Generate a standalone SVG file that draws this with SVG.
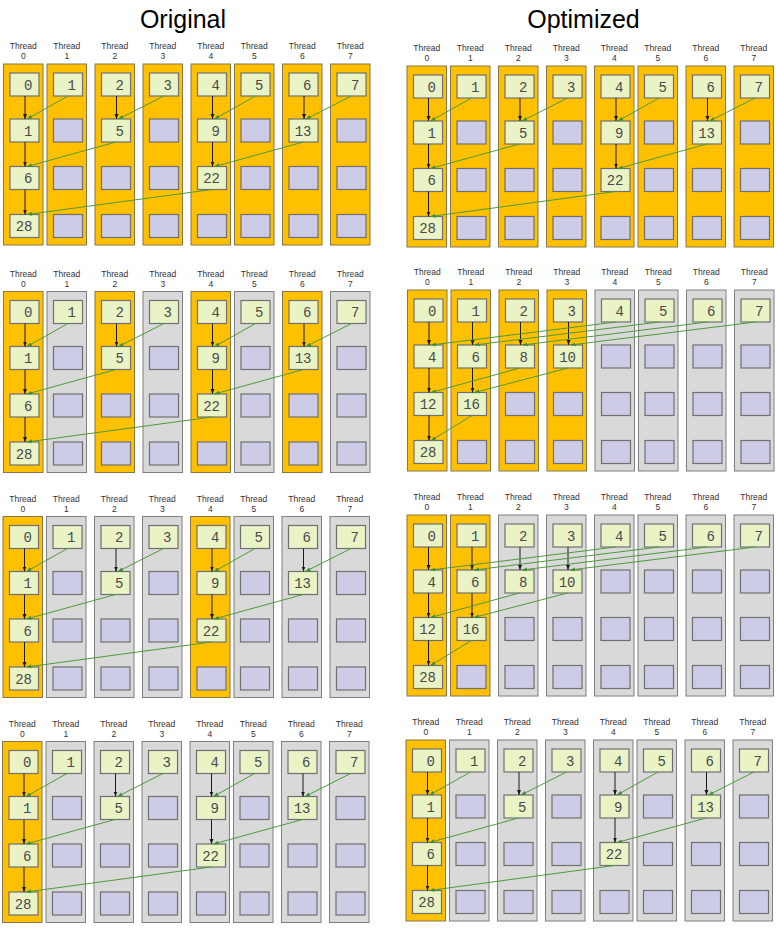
<svg xmlns="http://www.w3.org/2000/svg" xmlns:xlink="http://www.w3.org/1999/xlink" width="776" height="928" viewBox="0 0 776 928">
<style>
.so{fill:#FFC000;stroke:#86764a;stroke-width:1}
.sg{fill:#D9D9D9;stroke:#7f7f7f;stroke-width:1}
.bg{fill:#E9F3C6;stroke:#707070;stroke-width:1.2}
.bp{fill:#CCCCE6;stroke:#707070;stroke-width:1.2}
.lb{font-family:"Liberation Sans",Arial,sans-serif;font-size:8.5px;fill:#333;text-anchor:middle}
.nv{font-family:"Liberation Mono","Courier New",monospace;font-size:14px;fill:#4a4a4a;text-anchor:end}
.ti{font-family:"Liberation Sans",Arial,sans-serif;font-size:25px;fill:#000;text-anchor:middle}
.ek{stroke:#1a1a1a;stroke-width:1;fill:none;marker-end:url(#ak)}
.eg{stroke:#4e9a3a;stroke-width:1;fill:none;marker-end:url(#ag)}
</style>
<defs>
<marker id="ak" markerUnits="userSpaceOnUse" markerWidth="5" markerHeight="5" viewBox="0 0 5 5" refX="5" refY="2.5" orient="auto"><path d="M0,0.5 L5,2.5 L0,4.5 Z" fill="#1a1a1a"/></marker>
<marker id="ag" markerUnits="userSpaceOnUse" markerWidth="5" markerHeight="5" viewBox="0 0 5 5" refX="5" refY="2.5" orient="auto"><path d="M0,0.5 L5,2.5 L0,4.5 Z" fill="#3f8f2f"/></marker>
<rect id="pb" class="bp" width="29" height="23"/>
</defs>
<rect width="776" height="928" fill="#fff"/>
<text class="ti" x="183" y="28">Original</text>
<text class="ti" x="583.5" y="28">Optimized</text>

<!-- Panel 1: original, all active -->
<g id="p1" transform="translate(3.5,64)">
<g id="p1-t0"><rect class="so" x="0" y="0" width="39.5" height="181"/><text class="lb" x="19.75" y="-15">Thread</text><text class="lb" x="19.75" y="-5">0</text><rect class="bg" x="6.5" y="9" width="29" height="23"/><text class="nv" x="29" y="25.5">0</text><rect class="bg" x="6.5" y="55" width="29" height="23"/><text class="nv" x="29" y="71.5">1</text><rect class="bg" x="6.5" y="102.5" width="29" height="23"/><text class="nv" x="29" y="119">6</text><rect class="bg" x="6.5" y="150.5" width="29" height="23"/><text class="nv" x="29" y="167">28</text></g>
<g id="p1-t1"><rect class="so" x="43.5" y="0" width="39.5" height="181"/><text class="lb" x="63.25" y="-15">Thread</text><text class="lb" x="63.25" y="-5">1</text><rect class="bg" x="50" y="9" width="29" height="23"/><text class="nv" x="72.5" y="25.5">1</text><use href="#pb" x="50" y="55"/><use href="#pb" x="50" y="102.5"/><use href="#pb" x="50" y="150.5"/></g>
<g id="p1-t2"><rect class="so" x="91.5" y="0" width="39.5" height="181"/><text class="lb" x="111.25" y="-15">Thread</text><text class="lb" x="111.25" y="-5">2</text><rect class="bg" x="98" y="9" width="29" height="23"/><text class="nv" x="120.5" y="25.5">2</text><rect class="bg" x="98" y="55" width="29" height="23"/><text class="nv" x="120.5" y="71.5">5</text><use href="#pb" x="98" y="102.5"/><use href="#pb" x="98" y="150.5"/></g>
<g id="p1-t3"><rect class="so" x="139.5" y="0" width="39.5" height="181"/><text class="lb" x="159.25" y="-15">Thread</text><text class="lb" x="159.25" y="-5">3</text><rect class="bg" x="146" y="9" width="29" height="23"/><text class="nv" x="168.5" y="25.5">3</text><use href="#pb" x="146" y="55"/><use href="#pb" x="146" y="102.5"/><use href="#pb" x="146" y="150.5"/></g>
<g id="p1-t4"><rect class="so" x="187.5" y="0" width="39.5" height="181"/><text class="lb" x="207.25" y="-15">Thread</text><text class="lb" x="207.25" y="-5">4</text><rect class="bg" x="194" y="9" width="29" height="23"/><text class="nv" x="216.5" y="25.5">4</text><rect class="bg" x="194" y="55" width="29" height="23"/><text class="nv" x="216.5" y="71.5">9</text><rect class="bg" x="194" y="102.5" width="29" height="23"/><text class="nv" x="216.5" y="119">22</text><use href="#pb" x="194" y="150.5"/></g>
<g id="p1-t5"><rect class="so" x="231" y="0" width="39.5" height="181"/><text class="lb" x="250.75" y="-15">Thread</text><text class="lb" x="250.75" y="-5">5</text><rect class="bg" x="237.5" y="9" width="29" height="23"/><text class="nv" x="260" y="25.5">5</text><use href="#pb" x="237.5" y="55"/><use href="#pb" x="237.5" y="102.5"/><use href="#pb" x="237.5" y="150.5"/></g>
<g id="p1-t6"><rect class="so" x="279" y="0" width="39.5" height="181"/><text class="lb" x="298.75" y="-15">Thread</text><text class="lb" x="298.75" y="-5">6</text><rect class="bg" x="285.5" y="9" width="29" height="23"/><text class="nv" x="308" y="25.5">6</text><rect class="bg" x="285.5" y="55" width="29" height="23"/><text class="nv" x="308" y="71.5">13</text><use href="#pb" x="285.5" y="102.5"/><use href="#pb" x="285.5" y="150.5"/></g>
<g id="p1-t7"><rect class="so" x="327" y="0" width="39.5" height="181"/><text class="lb" x="346.75" y="-15">Thread</text><text class="lb" x="346.75" y="-5">7</text><rect class="bg" x="333.5" y="9" width="29" height="23"/><text class="nv" x="356" y="25.5">7</text><use href="#pb" x="333.5" y="55"/><use href="#pb" x="333.5" y="102.5"/><use href="#pb" x="333.5" y="150.5"/></g>
<g id="p1-edges">
<line class="ek" x1="21.5" y1="32" x2="21.5" y2="55"/><line class="ek" x1="113" y1="32" x2="113" y2="55"/><line class="ek" x1="209" y1="32" x2="209" y2="55"/><line class="ek" x1="300.5" y1="32" x2="300.5" y2="55"/><line class="ek" x1="21.5" y1="78" x2="21.5" y2="102.5"/><line class="ek" x1="209" y1="78" x2="209" y2="102.5"/><line class="ek" x1="21.5" y1="125.5" x2="21.5" y2="150.5"/>
<line class="eg" x1="64.5" y1="32" x2="23.5" y2="55"/><line class="eg" x1="160.5" y1="32" x2="115" y2="55"/><line class="eg" x1="252" y1="32" x2="211" y2="55"/><line class="eg" x1="348" y1="32" x2="302.5" y2="55"/><line class="eg" x1="112.5" y1="78" x2="23.5" y2="102.5"/><line class="eg" x1="300" y1="78" x2="211" y2="102.5"/><line class="eg" x1="208.5" y1="125.5" x2="23.5" y2="150.5"/>
</g>
</g>

<!-- Panel 2: optimized step 1 (same as original), all active -->
<g id="p2" transform="translate(407,66)">
<g id="p2-t0"><rect class="so" x="0" y="0" width="39.5" height="181"/><text class="lb" x="19.75" y="-15">Thread</text><text class="lb" x="19.75" y="-5">0</text><rect class="bg" x="6.5" y="9" width="29" height="23"/><text class="nv" x="29" y="25.5">0</text><rect class="bg" x="6.5" y="55" width="29" height="23"/><text class="nv" x="29" y="71.5">1</text><rect class="bg" x="6.5" y="102.5" width="29" height="23"/><text class="nv" x="29" y="119">6</text><rect class="bg" x="6.5" y="150.5" width="29" height="23"/><text class="nv" x="29" y="167">28</text></g>
<g id="p2-t1"><rect class="so" x="43.5" y="0" width="39.5" height="181"/><text class="lb" x="63.25" y="-15">Thread</text><text class="lb" x="63.25" y="-5">1</text><rect class="bg" x="50" y="9" width="29" height="23"/><text class="nv" x="72.5" y="25.5">1</text><use href="#pb" x="50" y="55"/><use href="#pb" x="50" y="102.5"/><use href="#pb" x="50" y="150.5"/></g>
<g id="p2-t2"><rect class="so" x="91.5" y="0" width="39.5" height="181"/><text class="lb" x="111.25" y="-15">Thread</text><text class="lb" x="111.25" y="-5">2</text><rect class="bg" x="98" y="9" width="29" height="23"/><text class="nv" x="120.5" y="25.5">2</text><rect class="bg" x="98" y="55" width="29" height="23"/><text class="nv" x="120.5" y="71.5">5</text><use href="#pb" x="98" y="102.5"/><use href="#pb" x="98" y="150.5"/></g>
<g id="p2-t3"><rect class="so" x="139.5" y="0" width="39.5" height="181"/><text class="lb" x="159.25" y="-15">Thread</text><text class="lb" x="159.25" y="-5">3</text><rect class="bg" x="146" y="9" width="29" height="23"/><text class="nv" x="168.5" y="25.5">3</text><use href="#pb" x="146" y="55"/><use href="#pb" x="146" y="102.5"/><use href="#pb" x="146" y="150.5"/></g>
<g id="p2-t4"><rect class="so" x="187.5" y="0" width="39.5" height="181"/><text class="lb" x="207.25" y="-15">Thread</text><text class="lb" x="207.25" y="-5">4</text><rect class="bg" x="194" y="9" width="29" height="23"/><text class="nv" x="216.5" y="25.5">4</text><rect class="bg" x="194" y="55" width="29" height="23"/><text class="nv" x="216.5" y="71.5">9</text><rect class="bg" x="194" y="102.5" width="29" height="23"/><text class="nv" x="216.5" y="119">22</text><use href="#pb" x="194" y="150.5"/></g>
<g id="p2-t5"><rect class="so" x="231" y="0" width="39.5" height="181"/><text class="lb" x="250.75" y="-15">Thread</text><text class="lb" x="250.75" y="-5">5</text><rect class="bg" x="237.5" y="9" width="29" height="23"/><text class="nv" x="260" y="25.5">5</text><use href="#pb" x="237.5" y="55"/><use href="#pb" x="237.5" y="102.5"/><use href="#pb" x="237.5" y="150.5"/></g>
<g id="p2-t6"><rect class="so" x="279" y="0" width="39.5" height="181"/><text class="lb" x="298.75" y="-15">Thread</text><text class="lb" x="298.75" y="-5">6</text><rect class="bg" x="285.5" y="9" width="29" height="23"/><text class="nv" x="308" y="25.5">6</text><rect class="bg" x="285.5" y="55" width="29" height="23"/><text class="nv" x="308" y="71.5">13</text><use href="#pb" x="285.5" y="102.5"/><use href="#pb" x="285.5" y="150.5"/></g>
<g id="p2-t7"><rect class="so" x="327" y="0" width="39.5" height="181"/><text class="lb" x="346.75" y="-15">Thread</text><text class="lb" x="346.75" y="-5">7</text><rect class="bg" x="333.5" y="9" width="29" height="23"/><text class="nv" x="356" y="25.5">7</text><use href="#pb" x="333.5" y="55"/><use href="#pb" x="333.5" y="102.5"/><use href="#pb" x="333.5" y="150.5"/></g>
<g id="p2-edges">
<line class="ek" x1="21.5" y1="32" x2="21.5" y2="55"/><line class="ek" x1="113" y1="32" x2="113" y2="55"/><line class="ek" x1="209" y1="32" x2="209" y2="55"/><line class="ek" x1="300.5" y1="32" x2="300.5" y2="55"/><line class="ek" x1="21.5" y1="78" x2="21.5" y2="102.5"/><line class="ek" x1="209" y1="78" x2="209" y2="102.5"/><line class="ek" x1="21.5" y1="125.5" x2="21.5" y2="150.5"/>
<line class="eg" x1="64.5" y1="32" x2="23.5" y2="55"/><line class="eg" x1="160.5" y1="32" x2="115" y2="55"/><line class="eg" x1="252" y1="32" x2="211" y2="55"/><line class="eg" x1="348" y1="32" x2="302.5" y2="55"/><line class="eg" x1="112.5" y1="78" x2="23.5" y2="102.5"/><line class="eg" x1="300" y1="78" x2="211" y2="102.5"/><line class="eg" x1="208.5" y1="125.5" x2="23.5" y2="150.5"/>
</g>
</g>

<!-- Panel 3: original, even threads active -->
<g id="p3" transform="translate(3.5,291.5)">
<g id="p3-t0"><rect class="so" x="0" y="0" width="39.5" height="181"/><text class="lb" x="19.75" y="-15">Thread</text><text class="lb" x="19.75" y="-5">0</text><rect class="bg" x="6.5" y="9" width="29" height="23"/><text class="nv" x="29" y="25.5">0</text><rect class="bg" x="6.5" y="55" width="29" height="23"/><text class="nv" x="29" y="71.5">1</text><rect class="bg" x="6.5" y="102.5" width="29" height="23"/><text class="nv" x="29" y="119">6</text><rect class="bg" x="6.5" y="150.5" width="29" height="23"/><text class="nv" x="29" y="167">28</text></g>
<g id="p3-t1"><rect class="sg" x="43.5" y="0" width="39.5" height="181"/><text class="lb" x="63.25" y="-15">Thread</text><text class="lb" x="63.25" y="-5">1</text><rect class="bg" x="50" y="9" width="29" height="23"/><text class="nv" x="72.5" y="25.5">1</text><use href="#pb" x="50" y="55"/><use href="#pb" x="50" y="102.5"/><use href="#pb" x="50" y="150.5"/></g>
<g id="p3-t2"><rect class="so" x="91.5" y="0" width="39.5" height="181"/><text class="lb" x="111.25" y="-15">Thread</text><text class="lb" x="111.25" y="-5">2</text><rect class="bg" x="98" y="9" width="29" height="23"/><text class="nv" x="120.5" y="25.5">2</text><rect class="bg" x="98" y="55" width="29" height="23"/><text class="nv" x="120.5" y="71.5">5</text><use href="#pb" x="98" y="102.5"/><use href="#pb" x="98" y="150.5"/></g>
<g id="p3-t3"><rect class="sg" x="139.5" y="0" width="39.5" height="181"/><text class="lb" x="159.25" y="-15">Thread</text><text class="lb" x="159.25" y="-5">3</text><rect class="bg" x="146" y="9" width="29" height="23"/><text class="nv" x="168.5" y="25.5">3</text><use href="#pb" x="146" y="55"/><use href="#pb" x="146" y="102.5"/><use href="#pb" x="146" y="150.5"/></g>
<g id="p3-t4"><rect class="so" x="187.5" y="0" width="39.5" height="181"/><text class="lb" x="207.25" y="-15">Thread</text><text class="lb" x="207.25" y="-5">4</text><rect class="bg" x="194" y="9" width="29" height="23"/><text class="nv" x="216.5" y="25.5">4</text><rect class="bg" x="194" y="55" width="29" height="23"/><text class="nv" x="216.5" y="71.5">9</text><rect class="bg" x="194" y="102.5" width="29" height="23"/><text class="nv" x="216.5" y="119">22</text><use href="#pb" x="194" y="150.5"/></g>
<g id="p3-t5"><rect class="sg" x="231" y="0" width="39.5" height="181"/><text class="lb" x="250.75" y="-15">Thread</text><text class="lb" x="250.75" y="-5">5</text><rect class="bg" x="237.5" y="9" width="29" height="23"/><text class="nv" x="260" y="25.5">5</text><use href="#pb" x="237.5" y="55"/><use href="#pb" x="237.5" y="102.5"/><use href="#pb" x="237.5" y="150.5"/></g>
<g id="p3-t6"><rect class="so" x="279" y="0" width="39.5" height="181"/><text class="lb" x="298.75" y="-15">Thread</text><text class="lb" x="298.75" y="-5">6</text><rect class="bg" x="285.5" y="9" width="29" height="23"/><text class="nv" x="308" y="25.5">6</text><rect class="bg" x="285.5" y="55" width="29" height="23"/><text class="nv" x="308" y="71.5">13</text><use href="#pb" x="285.5" y="102.5"/><use href="#pb" x="285.5" y="150.5"/></g>
<g id="p3-t7"><rect class="sg" x="327" y="0" width="39.5" height="181"/><text class="lb" x="346.75" y="-15">Thread</text><text class="lb" x="346.75" y="-5">7</text><rect class="bg" x="333.5" y="9" width="29" height="23"/><text class="nv" x="356" y="25.5">7</text><use href="#pb" x="333.5" y="55"/><use href="#pb" x="333.5" y="102.5"/><use href="#pb" x="333.5" y="150.5"/></g>
<g id="p3-edges">
<line class="ek" x1="21.5" y1="32" x2="21.5" y2="55"/><line class="ek" x1="113" y1="32" x2="113" y2="55"/><line class="ek" x1="209" y1="32" x2="209" y2="55"/><line class="ek" x1="300.5" y1="32" x2="300.5" y2="55"/><line class="ek" x1="21.5" y1="78" x2="21.5" y2="102.5"/><line class="ek" x1="209" y1="78" x2="209" y2="102.5"/><line class="ek" x1="21.5" y1="125.5" x2="21.5" y2="150.5"/>
<line class="eg" x1="64.5" y1="32" x2="23.5" y2="55"/><line class="eg" x1="160.5" y1="32" x2="115" y2="55"/><line class="eg" x1="252" y1="32" x2="211" y2="55"/><line class="eg" x1="348" y1="32" x2="302.5" y2="55"/><line class="eg" x1="112.5" y1="78" x2="23.5" y2="102.5"/><line class="eg" x1="300" y1="78" x2="211" y2="102.5"/><line class="eg" x1="208.5" y1="125.5" x2="23.5" y2="150.5"/>
</g>
</g>

<!-- Panel 4: optimized, threads 0-3 active -->
<g id="p4" transform="translate(407.5,290)">
<g id="p4-t0"><rect class="so" x="0" y="0" width="39.5" height="181"/><text class="lb" x="19.75" y="-15">Thread</text><text class="lb" x="19.75" y="-5">0</text><rect class="bg" x="6.5" y="9" width="29" height="23"/><text class="nv" x="29" y="25.5">0</text><rect class="bg" x="6.5" y="55" width="29" height="23"/><text class="nv" x="29" y="71.5">4</text><rect class="bg" x="6.5" y="102.5" width="29" height="23"/><text class="nv" x="29" y="119">12</text><rect class="bg" x="6.5" y="150.5" width="29" height="23"/><text class="nv" x="29" y="167">28</text></g>
<g id="p4-t1"><rect class="so" x="43.5" y="0" width="39.5" height="181"/><text class="lb" x="63.25" y="-15">Thread</text><text class="lb" x="63.25" y="-5">1</text><rect class="bg" x="50" y="9" width="29" height="23"/><text class="nv" x="72.5" y="25.5">1</text><rect class="bg" x="50" y="55" width="29" height="23"/><text class="nv" x="72.5" y="71.5">6</text><rect class="bg" x="50" y="102.5" width="29" height="23"/><text class="nv" x="72.5" y="119">16</text><use href="#pb" x="50" y="150.5"/></g>
<g id="p4-t2"><rect class="so" x="91.5" y="0" width="39.5" height="181"/><text class="lb" x="111.25" y="-15">Thread</text><text class="lb" x="111.25" y="-5">2</text><rect class="bg" x="98" y="9" width="29" height="23"/><text class="nv" x="120.5" y="25.5">2</text><rect class="bg" x="98" y="55" width="29" height="23"/><text class="nv" x="120.5" y="71.5">8</text><use href="#pb" x="98" y="102.5"/><use href="#pb" x="98" y="150.5"/></g>
<g id="p4-t3"><rect class="so" x="139.5" y="0" width="39.5" height="181"/><text class="lb" x="159.25" y="-15">Thread</text><text class="lb" x="159.25" y="-5">3</text><rect class="bg" x="146" y="9" width="29" height="23"/><text class="nv" x="168.5" y="25.5">3</text><rect class="bg" x="146" y="55" width="29" height="23"/><text class="nv" x="168.5" y="71.5">10</text><use href="#pb" x="146" y="102.5"/><use href="#pb" x="146" y="150.5"/></g>
<g id="p4-t4"><rect class="sg" x="187.5" y="0" width="39.5" height="181"/><text class="lb" x="207.25" y="-15">Thread</text><text class="lb" x="207.25" y="-5">4</text><rect class="bg" x="194" y="9" width="29" height="23"/><text class="nv" x="216.5" y="25.5">4</text><use href="#pb" x="194" y="55"/><use href="#pb" x="194" y="102.5"/><use href="#pb" x="194" y="150.5"/></g>
<g id="p4-t5"><rect class="sg" x="231" y="0" width="39.5" height="181"/><text class="lb" x="250.75" y="-15">Thread</text><text class="lb" x="250.75" y="-5">5</text><rect class="bg" x="237.5" y="9" width="29" height="23"/><text class="nv" x="260" y="25.5">5</text><use href="#pb" x="237.5" y="55"/><use href="#pb" x="237.5" y="102.5"/><use href="#pb" x="237.5" y="150.5"/></g>
<g id="p4-t6"><rect class="sg" x="279" y="0" width="39.5" height="181"/><text class="lb" x="298.75" y="-15">Thread</text><text class="lb" x="298.75" y="-5">6</text><rect class="bg" x="285.5" y="9" width="29" height="23"/><text class="nv" x="308" y="25.5">6</text><use href="#pb" x="285.5" y="55"/><use href="#pb" x="285.5" y="102.5"/><use href="#pb" x="285.5" y="150.5"/></g>
<g id="p4-t7"><rect class="sg" x="327" y="0" width="39.5" height="181"/><text class="lb" x="346.75" y="-15">Thread</text><text class="lb" x="346.75" y="-5">7</text><rect class="bg" x="333.5" y="9" width="29" height="23"/><text class="nv" x="356" y="25.5">7</text><use href="#pb" x="333.5" y="55"/><use href="#pb" x="333.5" y="102.5"/><use href="#pb" x="333.5" y="150.5"/></g>
<g id="p4-edges">
<line class="ek" x1="21.5" y1="32" x2="21.5" y2="55"/><line class="ek" x1="65" y1="32" x2="65" y2="55"/><line class="ek" x1="113" y1="32" x2="113" y2="55"/><line class="ek" x1="161" y1="32" x2="161" y2="55"/><line class="ek" x1="21.5" y1="78" x2="21.5" y2="102.5"/><line class="ek" x1="65" y1="78" x2="65" y2="102.5"/><line class="ek" x1="21.5" y1="125.5" x2="21.5" y2="150.5"/>
<line class="eg" x1="208.5" y1="32" x2="23.5" y2="55"/><line class="eg" x1="252" y1="32" x2="67" y2="55"/><line class="eg" x1="300" y1="32" x2="115" y2="55"/><line class="eg" x1="348" y1="32" x2="163" y2="55"/><line class="eg" x1="112.5" y1="78" x2="23.5" y2="102.5"/><line class="eg" x1="160.5" y1="78" x2="67" y2="102.5"/><line class="eg" x1="64.5" y1="125.5" x2="23.5" y2="150.5"/>
</g>
</g>

<!-- Panel 5: original, threads 0 and 4 active -->
<g id="p5" transform="translate(3,516.5)">
<g id="p5-t0"><rect class="so" x="0" y="0" width="39.5" height="181"/><text class="lb" x="19.75" y="-15">Thread</text><text class="lb" x="19.75" y="-5">0</text><rect class="bg" x="6.5" y="9" width="29" height="23"/><text class="nv" x="29" y="25.5">0</text><rect class="bg" x="6.5" y="55" width="29" height="23"/><text class="nv" x="29" y="71.5">1</text><rect class="bg" x="6.5" y="102.5" width="29" height="23"/><text class="nv" x="29" y="119">6</text><rect class="bg" x="6.5" y="150.5" width="29" height="23"/><text class="nv" x="29" y="167">28</text></g>
<g id="p5-t1"><rect class="sg" x="43.5" y="0" width="39.5" height="181"/><text class="lb" x="63.25" y="-15">Thread</text><text class="lb" x="63.25" y="-5">1</text><rect class="bg" x="50" y="9" width="29" height="23"/><text class="nv" x="72.5" y="25.5">1</text><use href="#pb" x="50" y="55"/><use href="#pb" x="50" y="102.5"/><use href="#pb" x="50" y="150.5"/></g>
<g id="p5-t2"><rect class="sg" x="91.5" y="0" width="39.5" height="181"/><text class="lb" x="111.25" y="-15">Thread</text><text class="lb" x="111.25" y="-5">2</text><rect class="bg" x="98" y="9" width="29" height="23"/><text class="nv" x="120.5" y="25.5">2</text><rect class="bg" x="98" y="55" width="29" height="23"/><text class="nv" x="120.5" y="71.5">5</text><use href="#pb" x="98" y="102.5"/><use href="#pb" x="98" y="150.5"/></g>
<g id="p5-t3"><rect class="sg" x="139.5" y="0" width="39.5" height="181"/><text class="lb" x="159.25" y="-15">Thread</text><text class="lb" x="159.25" y="-5">3</text><rect class="bg" x="146" y="9" width="29" height="23"/><text class="nv" x="168.5" y="25.5">3</text><use href="#pb" x="146" y="55"/><use href="#pb" x="146" y="102.5"/><use href="#pb" x="146" y="150.5"/></g>
<g id="p5-t4"><rect class="so" x="187.5" y="0" width="39.5" height="181"/><text class="lb" x="207.25" y="-15">Thread</text><text class="lb" x="207.25" y="-5">4</text><rect class="bg" x="194" y="9" width="29" height="23"/><text class="nv" x="216.5" y="25.5">4</text><rect class="bg" x="194" y="55" width="29" height="23"/><text class="nv" x="216.5" y="71.5">9</text><rect class="bg" x="194" y="102.5" width="29" height="23"/><text class="nv" x="216.5" y="119">22</text><use href="#pb" x="194" y="150.5"/></g>
<g id="p5-t5"><rect class="sg" x="231" y="0" width="39.5" height="181"/><text class="lb" x="250.75" y="-15">Thread</text><text class="lb" x="250.75" y="-5">5</text><rect class="bg" x="237.5" y="9" width="29" height="23"/><text class="nv" x="260" y="25.5">5</text><use href="#pb" x="237.5" y="55"/><use href="#pb" x="237.5" y="102.5"/><use href="#pb" x="237.5" y="150.5"/></g>
<g id="p5-t6"><rect class="sg" x="279" y="0" width="39.5" height="181"/><text class="lb" x="298.75" y="-15">Thread</text><text class="lb" x="298.75" y="-5">6</text><rect class="bg" x="285.5" y="9" width="29" height="23"/><text class="nv" x="308" y="25.5">6</text><rect class="bg" x="285.5" y="55" width="29" height="23"/><text class="nv" x="308" y="71.5">13</text><use href="#pb" x="285.5" y="102.5"/><use href="#pb" x="285.5" y="150.5"/></g>
<g id="p5-t7"><rect class="sg" x="327" y="0" width="39.5" height="181"/><text class="lb" x="346.75" y="-15">Thread</text><text class="lb" x="346.75" y="-5">7</text><rect class="bg" x="333.5" y="9" width="29" height="23"/><text class="nv" x="356" y="25.5">7</text><use href="#pb" x="333.5" y="55"/><use href="#pb" x="333.5" y="102.5"/><use href="#pb" x="333.5" y="150.5"/></g>
<g id="p5-edges">
<line class="ek" x1="21.5" y1="32" x2="21.5" y2="55"/><line class="ek" x1="113" y1="32" x2="113" y2="55"/><line class="ek" x1="209" y1="32" x2="209" y2="55"/><line class="ek" x1="300.5" y1="32" x2="300.5" y2="55"/><line class="ek" x1="21.5" y1="78" x2="21.5" y2="102.5"/><line class="ek" x1="209" y1="78" x2="209" y2="102.5"/><line class="ek" x1="21.5" y1="125.5" x2="21.5" y2="150.5"/>
<line class="eg" x1="64.5" y1="32" x2="23.5" y2="55"/><line class="eg" x1="160.5" y1="32" x2="115" y2="55"/><line class="eg" x1="252" y1="32" x2="211" y2="55"/><line class="eg" x1="348" y1="32" x2="302.5" y2="55"/><line class="eg" x1="112.5" y1="78" x2="23.5" y2="102.5"/><line class="eg" x1="300" y1="78" x2="211" y2="102.5"/><line class="eg" x1="208.5" y1="125.5" x2="23.5" y2="150.5"/>
</g>
</g>

<!-- Panel 6: optimized, threads 0-1 active -->
<g id="p6" transform="translate(407,515)">
<g id="p6-t0"><rect class="so" x="0" y="0" width="39.5" height="181"/><text class="lb" x="19.75" y="-15">Thread</text><text class="lb" x="19.75" y="-5">0</text><rect class="bg" x="6.5" y="9" width="29" height="23"/><text class="nv" x="29" y="25.5">0</text><rect class="bg" x="6.5" y="55" width="29" height="23"/><text class="nv" x="29" y="71.5">4</text><rect class="bg" x="6.5" y="102.5" width="29" height="23"/><text class="nv" x="29" y="119">12</text><rect class="bg" x="6.5" y="150.5" width="29" height="23"/><text class="nv" x="29" y="167">28</text></g>
<g id="p6-t1"><rect class="so" x="43.5" y="0" width="39.5" height="181"/><text class="lb" x="63.25" y="-15">Thread</text><text class="lb" x="63.25" y="-5">1</text><rect class="bg" x="50" y="9" width="29" height="23"/><text class="nv" x="72.5" y="25.5">1</text><rect class="bg" x="50" y="55" width="29" height="23"/><text class="nv" x="72.5" y="71.5">6</text><rect class="bg" x="50" y="102.5" width="29" height="23"/><text class="nv" x="72.5" y="119">16</text><use href="#pb" x="50" y="150.5"/></g>
<g id="p6-t2"><rect class="sg" x="91.5" y="0" width="39.5" height="181"/><text class="lb" x="111.25" y="-15">Thread</text><text class="lb" x="111.25" y="-5">2</text><rect class="bg" x="98" y="9" width="29" height="23"/><text class="nv" x="120.5" y="25.5">2</text><rect class="bg" x="98" y="55" width="29" height="23"/><text class="nv" x="120.5" y="71.5">8</text><use href="#pb" x="98" y="102.5"/><use href="#pb" x="98" y="150.5"/></g>
<g id="p6-t3"><rect class="sg" x="139.5" y="0" width="39.5" height="181"/><text class="lb" x="159.25" y="-15">Thread</text><text class="lb" x="159.25" y="-5">3</text><rect class="bg" x="146" y="9" width="29" height="23"/><text class="nv" x="168.5" y="25.5">3</text><rect class="bg" x="146" y="55" width="29" height="23"/><text class="nv" x="168.5" y="71.5">10</text><use href="#pb" x="146" y="102.5"/><use href="#pb" x="146" y="150.5"/></g>
<g id="p6-t4"><rect class="sg" x="187.5" y="0" width="39.5" height="181"/><text class="lb" x="207.25" y="-15">Thread</text><text class="lb" x="207.25" y="-5">4</text><rect class="bg" x="194" y="9" width="29" height="23"/><text class="nv" x="216.5" y="25.5">4</text><use href="#pb" x="194" y="55"/><use href="#pb" x="194" y="102.5"/><use href="#pb" x="194" y="150.5"/></g>
<g id="p6-t5"><rect class="sg" x="231" y="0" width="39.5" height="181"/><text class="lb" x="250.75" y="-15">Thread</text><text class="lb" x="250.75" y="-5">5</text><rect class="bg" x="237.5" y="9" width="29" height="23"/><text class="nv" x="260" y="25.5">5</text><use href="#pb" x="237.5" y="55"/><use href="#pb" x="237.5" y="102.5"/><use href="#pb" x="237.5" y="150.5"/></g>
<g id="p6-t6"><rect class="sg" x="279" y="0" width="39.5" height="181"/><text class="lb" x="298.75" y="-15">Thread</text><text class="lb" x="298.75" y="-5">6</text><rect class="bg" x="285.5" y="9" width="29" height="23"/><text class="nv" x="308" y="25.5">6</text><use href="#pb" x="285.5" y="55"/><use href="#pb" x="285.5" y="102.5"/><use href="#pb" x="285.5" y="150.5"/></g>
<g id="p6-t7"><rect class="sg" x="327" y="0" width="39.5" height="181"/><text class="lb" x="346.75" y="-15">Thread</text><text class="lb" x="346.75" y="-5">7</text><rect class="bg" x="333.5" y="9" width="29" height="23"/><text class="nv" x="356" y="25.5">7</text><use href="#pb" x="333.5" y="55"/><use href="#pb" x="333.5" y="102.5"/><use href="#pb" x="333.5" y="150.5"/></g>
<g id="p6-edges">
<line class="ek" x1="21.5" y1="32" x2="21.5" y2="55"/><line class="ek" x1="65" y1="32" x2="65" y2="55"/><line class="ek" x1="113" y1="32" x2="113" y2="55"/><line class="ek" x1="161" y1="32" x2="161" y2="55"/><line class="ek" x1="21.5" y1="78" x2="21.5" y2="102.5"/><line class="ek" x1="65" y1="78" x2="65" y2="102.5"/><line class="ek" x1="21.5" y1="125.5" x2="21.5" y2="150.5"/>
<line class="eg" x1="208.5" y1="32" x2="23.5" y2="55"/><line class="eg" x1="252" y1="32" x2="67" y2="55"/><line class="eg" x1="300" y1="32" x2="115" y2="55"/><line class="eg" x1="348" y1="32" x2="163" y2="55"/><line class="eg" x1="112.5" y1="78" x2="23.5" y2="102.5"/><line class="eg" x1="160.5" y1="78" x2="67" y2="102.5"/><line class="eg" x1="64.5" y1="125.5" x2="23.5" y2="150.5"/>
</g>
</g>

<!-- Panel 7: original, thread 0 active -->
<g id="p7" transform="translate(2.5,741.5)">
<g id="p7-t0"><rect class="so" x="0" y="0" width="39.5" height="181"/><text class="lb" x="19.75" y="-15">Thread</text><text class="lb" x="19.75" y="-5">0</text><rect class="bg" x="6.5" y="9" width="29" height="23"/><text class="nv" x="29" y="25.5">0</text><rect class="bg" x="6.5" y="55" width="29" height="23"/><text class="nv" x="29" y="71.5">1</text><rect class="bg" x="6.5" y="102.5" width="29" height="23"/><text class="nv" x="29" y="119">6</text><rect class="bg" x="6.5" y="150.5" width="29" height="23"/><text class="nv" x="29" y="167">28</text></g>
<g id="p7-t1"><rect class="sg" x="43.5" y="0" width="39.5" height="181"/><text class="lb" x="63.25" y="-15">Thread</text><text class="lb" x="63.25" y="-5">1</text><rect class="bg" x="50" y="9" width="29" height="23"/><text class="nv" x="72.5" y="25.5">1</text><use href="#pb" x="50" y="55"/><use href="#pb" x="50" y="102.5"/><use href="#pb" x="50" y="150.5"/></g>
<g id="p7-t2"><rect class="sg" x="91.5" y="0" width="39.5" height="181"/><text class="lb" x="111.25" y="-15">Thread</text><text class="lb" x="111.25" y="-5">2</text><rect class="bg" x="98" y="9" width="29" height="23"/><text class="nv" x="120.5" y="25.5">2</text><rect class="bg" x="98" y="55" width="29" height="23"/><text class="nv" x="120.5" y="71.5">5</text><use href="#pb" x="98" y="102.5"/><use href="#pb" x="98" y="150.5"/></g>
<g id="p7-t3"><rect class="sg" x="139.5" y="0" width="39.5" height="181"/><text class="lb" x="159.25" y="-15">Thread</text><text class="lb" x="159.25" y="-5">3</text><rect class="bg" x="146" y="9" width="29" height="23"/><text class="nv" x="168.5" y="25.5">3</text><use href="#pb" x="146" y="55"/><use href="#pb" x="146" y="102.5"/><use href="#pb" x="146" y="150.5"/></g>
<g id="p7-t4"><rect class="sg" x="187.5" y="0" width="39.5" height="181"/><text class="lb" x="207.25" y="-15">Thread</text><text class="lb" x="207.25" y="-5">4</text><rect class="bg" x="194" y="9" width="29" height="23"/><text class="nv" x="216.5" y="25.5">4</text><rect class="bg" x="194" y="55" width="29" height="23"/><text class="nv" x="216.5" y="71.5">9</text><rect class="bg" x="194" y="102.5" width="29" height="23"/><text class="nv" x="216.5" y="119">22</text><use href="#pb" x="194" y="150.5"/></g>
<g id="p7-t5"><rect class="sg" x="231" y="0" width="39.5" height="181"/><text class="lb" x="250.75" y="-15">Thread</text><text class="lb" x="250.75" y="-5">5</text><rect class="bg" x="237.5" y="9" width="29" height="23"/><text class="nv" x="260" y="25.5">5</text><use href="#pb" x="237.5" y="55"/><use href="#pb" x="237.5" y="102.5"/><use href="#pb" x="237.5" y="150.5"/></g>
<g id="p7-t6"><rect class="sg" x="279" y="0" width="39.5" height="181"/><text class="lb" x="298.75" y="-15">Thread</text><text class="lb" x="298.75" y="-5">6</text><rect class="bg" x="285.5" y="9" width="29" height="23"/><text class="nv" x="308" y="25.5">6</text><rect class="bg" x="285.5" y="55" width="29" height="23"/><text class="nv" x="308" y="71.5">13</text><use href="#pb" x="285.5" y="102.5"/><use href="#pb" x="285.5" y="150.5"/></g>
<g id="p7-t7"><rect class="sg" x="327" y="0" width="39.5" height="181"/><text class="lb" x="346.75" y="-15">Thread</text><text class="lb" x="346.75" y="-5">7</text><rect class="bg" x="333.5" y="9" width="29" height="23"/><text class="nv" x="356" y="25.5">7</text><use href="#pb" x="333.5" y="55"/><use href="#pb" x="333.5" y="102.5"/><use href="#pb" x="333.5" y="150.5"/></g>
<g id="p7-edges">
<line class="ek" x1="21.5" y1="32" x2="21.5" y2="55"/><line class="ek" x1="113" y1="32" x2="113" y2="55"/><line class="ek" x1="209" y1="32" x2="209" y2="55"/><line class="ek" x1="300.5" y1="32" x2="300.5" y2="55"/><line class="ek" x1="21.5" y1="78" x2="21.5" y2="102.5"/><line class="ek" x1="209" y1="78" x2="209" y2="102.5"/><line class="ek" x1="21.5" y1="125.5" x2="21.5" y2="150.5"/>
<line class="eg" x1="64.5" y1="32" x2="23.5" y2="55"/><line class="eg" x1="160.5" y1="32" x2="115" y2="55"/><line class="eg" x1="252" y1="32" x2="211" y2="55"/><line class="eg" x1="348" y1="32" x2="302.5" y2="55"/><line class="eg" x1="112.5" y1="78" x2="23.5" y2="102.5"/><line class="eg" x1="300" y1="78" x2="211" y2="102.5"/><line class="eg" x1="208.5" y1="125.5" x2="23.5" y2="150.5"/>
</g>
</g>

<!-- Panel 8: optimized last step, thread 0 active -->
<g id="p8" transform="translate(406,740)">
<g id="p8-t0"><rect class="so" x="0" y="0" width="39.5" height="181"/><text class="lb" x="19.75" y="-15">Thread</text><text class="lb" x="19.75" y="-5">0</text><rect class="bg" x="6.5" y="9" width="29" height="23"/><text class="nv" x="29" y="25.5">0</text><rect class="bg" x="6.5" y="55" width="29" height="23"/><text class="nv" x="29" y="71.5">1</text><rect class="bg" x="6.5" y="102.5" width="29" height="23"/><text class="nv" x="29" y="119">6</text><rect class="bg" x="6.5" y="150.5" width="29" height="23"/><text class="nv" x="29" y="167">28</text></g>
<g id="p8-t1"><rect class="sg" x="43.5" y="0" width="39.5" height="181"/><text class="lb" x="63.25" y="-15">Thread</text><text class="lb" x="63.25" y="-5">1</text><rect class="bg" x="50" y="9" width="29" height="23"/><text class="nv" x="72.5" y="25.5">1</text><use href="#pb" x="50" y="55"/><use href="#pb" x="50" y="102.5"/><use href="#pb" x="50" y="150.5"/></g>
<g id="p8-t2"><rect class="sg" x="91.5" y="0" width="39.5" height="181"/><text class="lb" x="111.25" y="-15">Thread</text><text class="lb" x="111.25" y="-5">2</text><rect class="bg" x="98" y="9" width="29" height="23"/><text class="nv" x="120.5" y="25.5">2</text><rect class="bg" x="98" y="55" width="29" height="23"/><text class="nv" x="120.5" y="71.5">5</text><use href="#pb" x="98" y="102.5"/><use href="#pb" x="98" y="150.5"/></g>
<g id="p8-t3"><rect class="sg" x="139.5" y="0" width="39.5" height="181"/><text class="lb" x="159.25" y="-15">Thread</text><text class="lb" x="159.25" y="-5">3</text><rect class="bg" x="146" y="9" width="29" height="23"/><text class="nv" x="168.5" y="25.5">3</text><use href="#pb" x="146" y="55"/><use href="#pb" x="146" y="102.5"/><use href="#pb" x="146" y="150.5"/></g>
<g id="p8-t4"><rect class="sg" x="187.5" y="0" width="39.5" height="181"/><text class="lb" x="207.25" y="-15">Thread</text><text class="lb" x="207.25" y="-5">4</text><rect class="bg" x="194" y="9" width="29" height="23"/><text class="nv" x="216.5" y="25.5">4</text><rect class="bg" x="194" y="55" width="29" height="23"/><text class="nv" x="216.5" y="71.5">9</text><rect class="bg" x="194" y="102.5" width="29" height="23"/><text class="nv" x="216.5" y="119">22</text><use href="#pb" x="194" y="150.5"/></g>
<g id="p8-t5"><rect class="sg" x="231" y="0" width="39.5" height="181"/><text class="lb" x="250.75" y="-15">Thread</text><text class="lb" x="250.75" y="-5">5</text><rect class="bg" x="237.5" y="9" width="29" height="23"/><text class="nv" x="260" y="25.5">5</text><use href="#pb" x="237.5" y="55"/><use href="#pb" x="237.5" y="102.5"/><use href="#pb" x="237.5" y="150.5"/></g>
<g id="p8-t6"><rect class="sg" x="279" y="0" width="39.5" height="181"/><text class="lb" x="298.75" y="-15">Thread</text><text class="lb" x="298.75" y="-5">6</text><rect class="bg" x="285.5" y="9" width="29" height="23"/><text class="nv" x="308" y="25.5">6</text><rect class="bg" x="285.5" y="55" width="29" height="23"/><text class="nv" x="308" y="71.5">13</text><use href="#pb" x="285.5" y="102.5"/><use href="#pb" x="285.5" y="150.5"/></g>
<g id="p8-t7"><rect class="sg" x="327" y="0" width="39.5" height="181"/><text class="lb" x="346.75" y="-15">Thread</text><text class="lb" x="346.75" y="-5">7</text><rect class="bg" x="333.5" y="9" width="29" height="23"/><text class="nv" x="356" y="25.5">7</text><use href="#pb" x="333.5" y="55"/><use href="#pb" x="333.5" y="102.5"/><use href="#pb" x="333.5" y="150.5"/></g>
<g id="p8-edges">
<line class="ek" x1="21.5" y1="32" x2="21.5" y2="55"/><line class="ek" x1="113" y1="32" x2="113" y2="55"/><line class="ek" x1="209" y1="32" x2="209" y2="55"/><line class="ek" x1="300.5" y1="32" x2="300.5" y2="55"/><line class="ek" x1="21.5" y1="78" x2="21.5" y2="102.5"/><line class="ek" x1="209" y1="78" x2="209" y2="102.5"/><line class="ek" x1="21.5" y1="125.5" x2="21.5" y2="150.5"/>
<line class="eg" x1="64.5" y1="32" x2="23.5" y2="55"/><line class="eg" x1="160.5" y1="32" x2="115" y2="55"/><line class="eg" x1="252" y1="32" x2="211" y2="55"/><line class="eg" x1="348" y1="32" x2="302.5" y2="55"/><line class="eg" x1="112.5" y1="78" x2="23.5" y2="102.5"/><line class="eg" x1="300" y1="78" x2="211" y2="102.5"/><line class="eg" x1="208.5" y1="125.5" x2="23.5" y2="150.5"/>
</g>
</g>
</svg>
